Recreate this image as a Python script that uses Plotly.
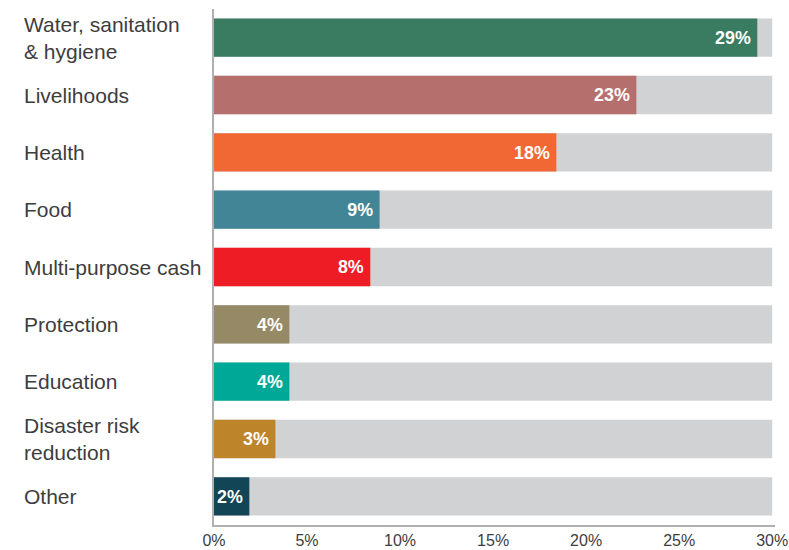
import plotly.graph_objects as go

categories = ["Water, sanitation<br>& hygiene", "Livelihoods", "Health", "Food",
              "Multi-purpose cash", "Protection", "Education",
              "Disaster risk<br>reduction", "Other"]
values = [29.2, 22.7, 18.4, 8.9, 8.4, 4.05, 4.05, 3.3, 1.9]
labels = ["29%", "23%", "18%", "9%", "8%", "4%", "4%", "3%", "2%"]
colors = ["#3a7c62", "#b5706e", "#f26835", "#428597", "#ee1c25",
          "#968966", "#00a898", "#bd8429", "#124556"]
full_scale = [30] * len(categories)
tick_vals = [0, 5, 10, 15, 20, 25, 30]
tick_text = ["0%", "5%", "10%", "15%", "20%", "25%", "30%"]

FONT = "Liberation Sans"

fig = go.Figure()
fig.add_trace(go.Bar(
    y=categories, x=full_scale, orientation="h",
    marker=dict(color="#d1d2d4", line=dict(width=0)),
    hoverinfo="skip", showlegend=False,
))
fig.add_trace(go.Bar(
    y=categories, x=values, orientation="h",
    marker=dict(color=colors, line=dict(width=0)),
    text=[l + "\u2009" for l in labels], textposition="inside", insidetextanchor="end",
    textangle=0,
    textfont=dict(family=FONT, size=20, color="white", weight="bold"),
    showlegend=False,
))

for c in categories:
    fig.add_annotation(
        x=-0.343, xref="paper", y=c, yref="y",
        text=c, showarrow=False, xanchor="left", yanchor="middle", align="left",
        font=dict(family=FONT, size=21, color="#3d3d3d"),
    )

fig.update_layout(
    width=789, height=550,
    margin=dict(l=214, r=14, t=9, b=25, autoexpand=False),
    barmode="overlay", bargap=0.33,
    plot_bgcolor="white", paper_bgcolor="white",
    uniformtext=dict(minsize=10, mode="show"),
    xaxis=dict(range=[0, 30.15], tickvals=tick_vals, ticktext=tick_text,
               showgrid=False, zeroline=False, showline=True,
               linecolor="#b0b0b0", linewidth=2, ticks="",
               ticklabeloverflow="allow",
               tickfont=dict(family=FONT, size=16, color="#3d3d3d"),
               automargin=False),
    yaxis=dict(autorange="reversed", showticklabels=False, showgrid=False,
               showline=True, linecolor="#b0b0b0", linewidth=2, ticks="",
               automargin=False),
)

fig.write_html("out.html")
